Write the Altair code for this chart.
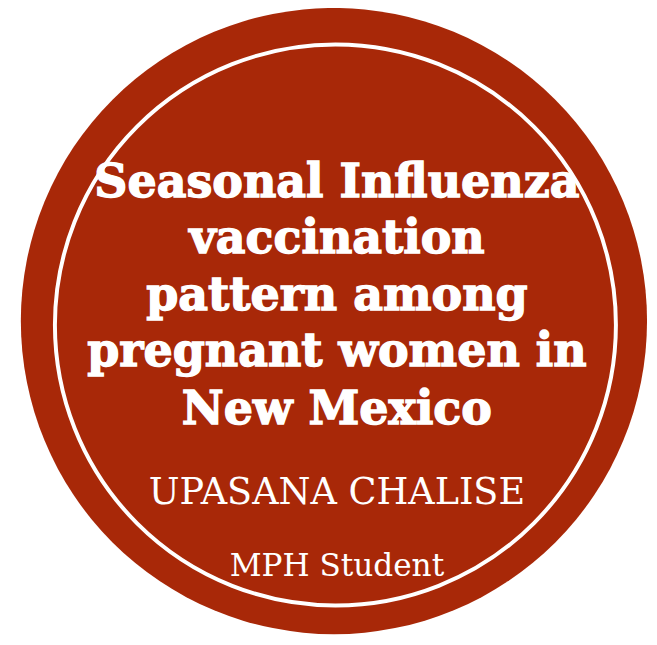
import altair as alt
import pandas as pd

# ---- content ----
title_lines = ["Seasonal Influenza", "vaccination", "pattern among",
               "pregnant women in", "New Mexico"]
title_baselines = [195, 252, 310, 367, 425]
name_text = ["UPASANA CHALISE"]
name_baseline = [506]
role_text = ["MPH Student"]
role_baseline = [579]
text_center_x = [341]

disc_center = [(338, 321)]
disc_radius = [317]
ring_center = [(339.5, 325)]
ring_radius = [284]

W, H = 649, 633
xs = alt.Scale(domain=[8, 8 + W], range=[0, W])
ys = alt.Scale(domain=[8, 8 + H], range=[0, H])

disc_df = pd.DataFrame({"x": [c[0] for c in disc_center],
                        "y": [c[1] for c in disc_center]})
ring_df = pd.DataFrame({"x": [c[0] for c in ring_center],
                        "y": [c[1] for c in ring_center]})

# Vega's circle symbol: size = diameter^2
disc = alt.Chart(disc_df).mark_point(
    shape="circle", filled=True, fill="#a82808", opacity=1, strokeWidth=0
).encode(
    x=alt.X("x:Q", scale=xs, axis=None),
    y=alt.Y("y:Q", scale=ys, axis=None),
    size=alt.value((2 * disc_radius[0]) ** 2),
)

ring = alt.Chart(ring_df).mark_point(
    shape="circle", filled=False, stroke="white", strokeWidth=4, opacity=1
).encode(
    x=alt.X("x:Q", scale=xs, axis=None),
    y=alt.Y("y:Q", scale=ys, axis=None),
    size=alt.value((2 * ring_radius[0]) ** 2),
)

title_df = pd.DataFrame({"t": title_lines, "y": title_baselines,
                         "x": text_center_x * len(title_lines)})
title = alt.Chart(title_df).mark_text(
    font="DejaVu Serif", fontWeight="bold", fontSize=46.5, color="white",
    stroke="white", strokeWidth=1.4,
    align="center", baseline="alphabetic"
).encode(
    x=alt.X("x:Q", scale=xs, axis=None),
    y=alt.Y("y:Q", scale=ys, axis=None),
    text="t:N",
)

name_df = pd.DataFrame({"t": name_text, "y": name_baseline, "x": text_center_x})
name = alt.Chart(name_df).mark_text(
    font="DejaVu Serif", fontSize=37, color="white",
    align="center", baseline="alphabetic"
).encode(
    x=alt.X("x:Q", scale=xs, axis=None),
    y=alt.Y("y:Q", scale=ys, axis=None),
    text="t:N",
)

role_df = pd.DataFrame({"t": role_text, "y": role_baseline, "x": text_center_x})
role = alt.Chart(role_df).mark_text(
    font="DejaVu Serif", fontSize=31.5, color="white",
    align="center", baseline="alphabetic"
).encode(
    x=alt.X("x:Q", scale=xs, axis=None),
    y=alt.Y("y:Q", scale=ys, axis=None),
    text="t:N",
)

chart = alt.layer(disc, ring, title, name, role).properties(
    width=W, height=H, padding=0, background="white",
    autosize=alt.AutoSizeParams(type="none"),
).configure_view(stroke=None)

chart.save("out.html", embed_options={"renderer": "svg", "actions": False})
